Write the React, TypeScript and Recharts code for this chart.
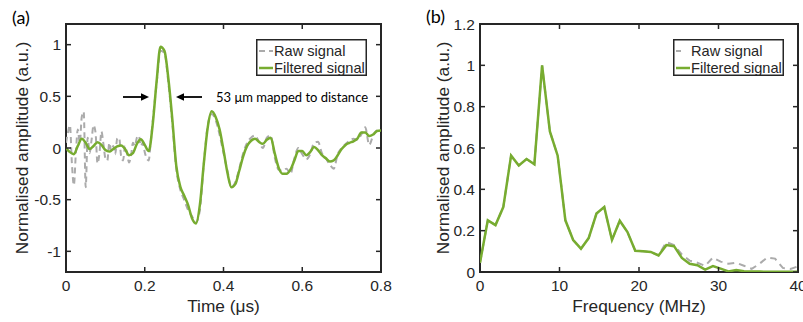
import React from 'react';
import { LineChart, Line, XAxis, YAxis, ReferenceArea, Legend } from 'recharts';

// ---------- Panel (a): time-domain signal ----------
const timeFiltered = [
  0, 0.01, 0.02, 0.03, 0.04, 0.05, 0.06, 0.07, 0.08, 0.09,
  0.1, 0.11, 0.12, 0.13, 0.14, 0.15, 0.16, 0.17, 0.18, 0.19,
  0.2, 0.21, 0.22, 0.23, 0.24, 0.25, 0.26, 0.27, 0.28, 0.29,
  0.3, 0.31, 0.32, 0.33, 0.34, 0.35, 0.36, 0.37, 0.38, 0.39,
  0.4, 0.41, 0.42, 0.43, 0.44, 0.45, 0.46, 0.47, 0.48, 0.49,
  0.5, 0.51, 0.52, 0.53, 0.54, 0.55, 0.56, 0.57, 0.58, 0.59,
  0.6, 0.61, 0.62, 0.63, 0.64, 0.65, 0.66, 0.67, 0.68, 0.69,
  0.7, 0.71, 0.72, 0.73, 0.74, 0.75, 0.76, 0.77, 0.78, 0.79, 0.8,
];
const filteredSignalA = [
  0.0, -0.04, -0.06, 0.02, 0.09, 0.05, -0.01, 0.02, 0.055, 0.03,
  -0.02, -0.035, -0.01, 0.015, 0.025, -0.01, -0.07, -0.05, 0.04, 0.085,
  0.03, -0.03, 0.22, 0.64, 0.98, 0.94, 0.67, 0.28, -0.17, -0.37,
  -0.46, -0.55, -0.68, -0.73, -0.55, -0.15, 0.2, 0.355, 0.3, 0.18,
  -0.02, -0.24, -0.38, -0.35, -0.22, -0.08, 0.02, 0.07, 0.09, 0.06,
  0.04, 0.08, 0.1, -0.05, -0.19, -0.25, -0.25, -0.21, -0.12, -0.03,
  -0.03, -0.07, -0.04, 0.01, -0.02, -0.07, -0.1, -0.13, -0.12, -0.07,
  -0.01, 0.03, 0.05, 0.065, 0.09, 0.15, 0.15, 0.115, 0.13, 0.165, 0.17,
];
const timeRaw = [
  0, 0.005, 0.01, 0.015, 0.02, 0.025, 0.03, 0.035, 0.04, 0.045,
  0.05, 0.055, 0.06, 0.065, 0.07, 0.075, 0.08, 0.085, 0.09, 0.095,
  0.1, 0.105, 0.11, 0.115, 0.12, 0.125, 0.13, 0.135, 0.14, 0.145,
  0.15, 0.155, 0.16, 0.165, 0.17, 0.175, 0.18, 0.185, 0.19, 0.195,
  0.2, 0.205, 0.21, 0.215, 0.22,
  0.23, 0.24, 0.25, 0.26, 0.27, 0.28, 0.29,
  0.3, 0.31, 0.32, 0.33, 0.34, 0.35, 0.36, 0.37, 0.38, 0.39,
  0.4, 0.41, 0.42, 0.43, 0.44, 0.45, 0.46, 0.47, 0.48, 0.49,
  0.5, 0.51, 0.52, 0.53, 0.54, 0.55, 0.56, 0.57, 0.58, 0.59,
  0.6, 0.61, 0.62, 0.63, 0.64, 0.65, 0.66, 0.67, 0.68, 0.69,
  0.7, 0.71, 0.72, 0.73, 0.74, 0.75, 0.76, 0.77, 0.78, 0.79, 0.8,
];
const rawSignalA = [
  0.05, 0.15, 0.22, -0.15, -0.36, -0.05, 0.18, 0.05, 0.3, 0.35,
  -0.38, 0.1, -0.05, 0.08, 0.22, 0.15, -0.15, -0.05, 0.16, 0.04,
  -0.1, -0.12, 0.05, -0.03, 0.02, -0.06, 0.09, 0.1, -0.08, -0.12,
  0.02, -0.05, -0.14, -0.08, 0.05, 0.02, 0.1, 0.12, 0.02, 0.05,
  -0.04, -0.1, -0.12, 0.05, 0.25,
  0.62, 0.94, 0.92, 0.63, 0.24, -0.2, -0.4,
  -0.5, -0.6, -0.66, -0.72, -0.6, -0.15, 0.22, 0.33, 0.27, 0.13,
  -0.05, -0.22, -0.38, -0.33, -0.2, -0.05, 0.05, 0.1, 0.12, 0.06,
  0.0, 0.1, 0.12, -0.09, -0.21, -0.22, -0.2, -0.25, -0.1, 0.0,
  -0.06, -0.11, -0.06, 0.05, 0.06, -0.05, -0.1, -0.16, -0.2, -0.06,
  0.0, 0.04, 0.07, 0.09, 0.08, 0.13, 0.2, 0.03, 0.12, 0.17, 0.16,
];
const timeTicks = [0, 0.2, 0.4, 0.6, 0.8];
const ampTicks = [-1, -0.5, 0, 0.5, 1];

// ---------- Panel (b): spectrum ----------
const frequency = [
  0, 0.98, 1.95, 2.93, 3.91, 4.88, 5.86, 6.84, 7.81, 8.79,
  9.77, 10.74, 11.72, 12.7, 13.67, 14.65, 15.63, 16.6, 17.58, 18.55,
  19.53, 20.51, 21.48, 22.46, 23.44, 24.41, 25.39, 26.37, 27.34, 28.32,
  29.3, 30.27, 31.25, 32.23, 33.2, 34.18, 35.16, 36.13, 37.11, 38.09,
  39.06, 40,
];
const filteredSpectrum = [
  0.045, 0.25, 0.227, 0.314, 0.563, 0.515, 0.547, 0.521, 1.0, 0.68,
  0.563, 0.25, 0.155, 0.113, 0.164, 0.283, 0.314, 0.155, 0.248, 0.193,
  0.103, 0.1, 0.097, 0.08, 0.13, 0.125, 0.068, 0.04, 0.033, 0.012,
  0.029, 0.016, 0.003, 0.01, 0.004, 0.002, 0.002, 0.001, 0.001, 0.001,
  0.001, 0.001,
];
const rawSpectrum = [
  0.045, 0.25, 0.227, 0.314, 0.563, 0.515, 0.547, 0.521, 1.0, 0.68,
  0.563, 0.25, 0.155, 0.113, 0.164, 0.283, 0.314, 0.155, 0.248, 0.193,
  0.103, 0.1, 0.097, 0.08, 0.145, 0.13, 0.085, 0.055, 0.045, 0.03,
  0.07, 0.05, 0.04, 0.045, 0.03, 0.015, 0.04, 0.07, 0.065, 0.02,
  0.015, 0.027,
];
const freqTicks = [0, 10, 20, 30, 40];
const specTicks = [0, 0.2, 0.4, 0.6, 0.8, 1, 1.2];

const seriesNames = ['Raw signal', 'Filtered signal'];

const filteredDataA = timeFiltered.map((t, i) => ({ t, v: filteredSignalA[i] }));
const rawDataA = timeRaw.map((t, i) => ({ t, v: rawSignalA[i] }));
const filteredDataB = frequency.map((f, i) => ({ t: f, v: filteredSpectrum[i] }));
const rawDataB = frequency.map((f, i) => ({ t: f, v: rawSpectrum[i] }));

// ---------- styles ----------
const AXIS = '#262626';
const GREEN = '#77AC30';
const GRAY = '#ababab';
const TICK_FONT = '"Liberation Sans", Arial, sans-serif';

const makeXTick = (top: number, bottom: number) => (props: any) => {
  const { x, payload } = props;
  return (
    <g>
      <line x1={x} x2={x} y1={bottom} y2={bottom - 5} stroke={AXIS} strokeWidth={1.5} />
      <line x1={x} x2={x} y1={top} y2={top + 5} stroke={AXIS} strokeWidth={1.5} />
      <text x={x} y={bottom + 19} textAnchor="middle" fontFamily={TICK_FONT} fontSize={15.5} fill={AXIS}>
        {String(payload.value)}
      </text>
    </g>
  );
};

const makeYTick = (left: number, right: number) => (props: any) => {
  const { y, payload } = props;
  return (
    <g>
      <line x1={left} x2={left + 5} y1={y} y2={y} stroke={AXIS} strokeWidth={1.5} />
      <line x1={right} x2={right - 5} y1={y} y2={y} stroke={AXIS} strokeWidth={1.5} />
      <text x={left - 5} y={y} dy="0.36em" textAnchor="end" fontFamily={TICK_FONT} fontSize={15.5} fill={AXIS}>
        {String(payload.value)}
      </text>
    </g>
  );
};

const AxisTitle = (props: any) => {
  const { px, py, text, vertical } = props;
  return (
    <text
      x={px}
      y={py}
      textAnchor="middle"
      dominantBaseline={vertical ? 'central' : 'auto'}
      transform={vertical ? `rotate(-90, ${px}, ${py})` : undefined}
      fontFamily={TICK_FONT}
      fontSize={17.3}
      fill={AXIS}
    >
      {text}
    </text>
  );
};

const LegendBox = ({ rawDash }: { rawDash: string }) => (
  <svg width={111} height={37} style={{ display: 'block' }}>
    <rect x={0.75} y={0.75} width={109.5} height={35.5} fill="#fff" stroke={AXIS} strokeWidth={1.5} />
    <line x1={3} x2={17} y1={12} y2={12} stroke={GRAY} strokeWidth={2} strokeDasharray={rawDash} />
    <line x1={3} x2={17} y1={29} y2={29} stroke={GREEN} strokeWidth={2.5} />
    <text x={18} y={12} dy="0.36em" fontFamily={TICK_FONT} fontSize={14.6} fill={AXIS}>{seriesNames[0]}</text>
    <text x={18} y={29} dy="0.36em" fontFamily={TICK_FONT} fontSize={14.6} fill={AXIS}>{seriesNames[1]}</text>
  </svg>
);

export default function App() {
  // panel (a) plot box: left 66, right 381, top 24, bottom 272
  const xTickA = makeXTick(24, 272);
  const yTickA = makeYTick(66, 381);
  // panel (b) plot box (local): left 80, right 398, top 24, bottom 272
  const xTickB = makeXTick(24, 272);
  const yTickB = makeYTick(80, 398);

  return (
    <div style={{ position: 'absolute', left: 0, top: 0, width: 803, height: 322, background: '#fff', overflow: 'hidden' }}>
      <div style={{ position: 'absolute', left: 0, top: 0 }}>
        <LineChart width={400} height={322} margin={{ top: 24, right: 19, bottom: 0, left: 0 }}>
          <XAxis
            dataKey="t"
            type="number"
            domain={[0, 0.8]}
            ticks={timeTicks}
            interval={0}
            allowDataOverflow
            height={50}
            tick={xTickA}
            tickLine={false}
            axisLine={false}
            label={<AxisTitle px={223.5} py={312} text="Time (μs)" />}
          />
          <YAxis
            type="number"
            domain={[-1.2, 1.2]}
            ticks={ampTicks}
            interval={0}
            allowDataOverflow
            width={66}
            tick={yTickA}
            tickLine={false}
            axisLine={false}
            label={<AxisTitle px={22} py={148} vertical text="Normalised amplitude (a.u.)" />}
          />
          <ReferenceArea x1={0} x2={0.8} y1={-1.2} y2={1.2} fill="none" stroke={AXIS} strokeWidth={2} />
          <Line
            data={rawDataA}
            dataKey="v"
            name={seriesNames[0]}
            type="monotone"
            stroke={GRAY}
            strokeWidth={2}
            strokeDasharray="6 4"
            dot={false}
            isAnimationActive={false}
          />
          <Line
            data={filteredDataA}
            dataKey="v"
            name={seriesNames[1]}
            type="monotone"
            stroke={GREEN}
            strokeWidth={2.5}
            dot={false}
            isAnimationActive={false}
          />
          <Legend
            layout="horizontal"
            verticalAlign="middle"
            align="center"
            content={() => <LegendBox rawDash="6 4" />}
            wrapperStyle={{ left: 256, top: 38.5, width: 111, height: 37 }}
          />
        </LineChart>
      </div>
      <div style={{ position: 'absolute', left: 400, top: 0 }}>
        <LineChart width={403} height={322} margin={{ top: 24, right: 5, bottom: 0, left: 0 }}>
          <XAxis
            dataKey="t"
            type="number"
            domain={[0, 40]}
            ticks={freqTicks}
            interval={0}
            allowDataOverflow
            height={50}
            tick={xTickB}
            tickLine={false}
            axisLine={false}
            label={<AxisTitle px={239} py={312} text="Frequency (MHz)" />}
          />
          <YAxis
            type="number"
            domain={[0, 1.2]}
            ticks={specTicks}
            interval={0}
            allowDataOverflow
            width={80}
            tick={yTickB}
            tickLine={false}
            axisLine={false}
            label={<AxisTitle px={43} py={148} vertical text="Normalised amplitude (a.u.)" />}
          />
          <ReferenceArea x1={0} x2={40} y1={0} y2={1.2} fill="none" stroke={AXIS} strokeWidth={2} />
          <Line
            data={rawDataB}
            dataKey="v"
            name={seriesNames[0]}
            type="linear"
            stroke={GRAY}
            strokeWidth={2}
            strokeDasharray="7 5"
            dot={false}
            isAnimationActive={false}
          />
          <Line
            data={filteredDataB}
            dataKey="v"
            name={seriesNames[1]}
            type="linear"
            stroke={GREEN}
            strokeWidth={2.5}
            dot={false}
            isAnimationActive={false}
          />
          <Legend
            layout="horizontal"
            verticalAlign="middle"
            align="center"
            content={() => <LegendBox rawDash="5 20" />}
            wrapperStyle={{ left: 273, top: 38.5, width: 111, height: 37 }}
          />
        </LineChart>
      </div>
      <svg width={803} height={322} style={{ position: 'absolute', left: 0, top: 0, pointerEvents: 'none' }}>
        <text x={12} y={24} fontFamily="Lato, sans-serif" fontSize={18} fill="#000">(a)</text>
        <text x={426} y={23} fontFamily="Lato, sans-serif" fontSize={18} fill="#000">(b)</text>
        <line x1={123} x2={143} y1={97} y2={97} stroke="#000" strokeWidth={1.8} />
        <polygon points="149,97 141,93.3 141,100.7" fill="#000" />
        <line x1={183} x2={202} y1={97} y2={97} stroke="#000" strokeWidth={1.8} />
        <polygon points="176,97 184,93.3 184,100.7" fill="#000" />
        <text x={216} y={97} dy="0.35em" fontFamily="Lato, sans-serif" fontSize={13} fill="#000">
          53 μm mapped to distance
        </text>
      </svg>
    </div>
  );
}
